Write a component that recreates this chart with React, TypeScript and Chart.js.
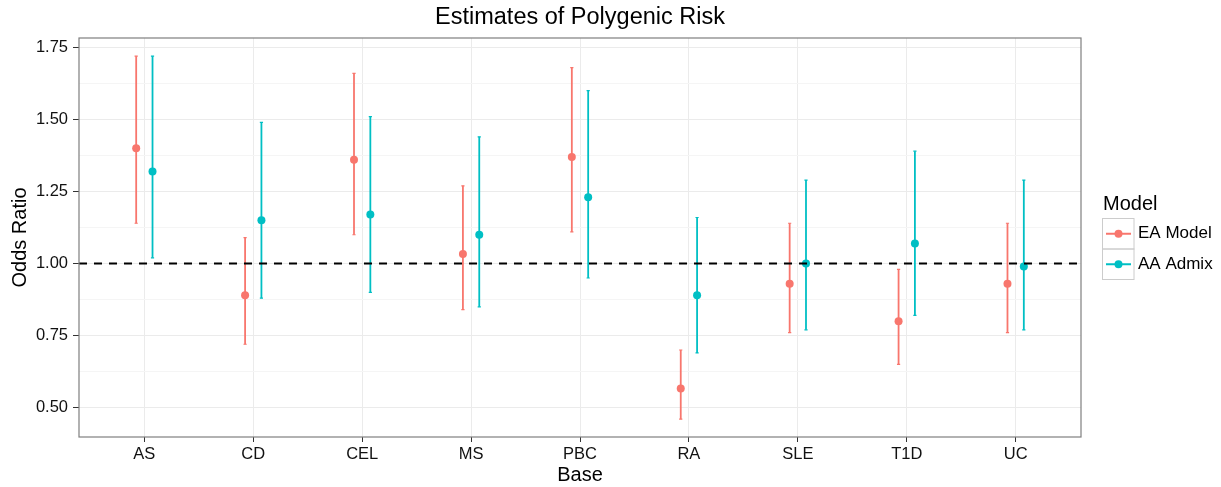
import { useEffect, useRef } from "react";
import { Chart, registerables } from "chart.js";

Chart.register(...registerables);

const categories = ["AS", "CD", "CEL", "MS", "PBC", "RA", "SLE", "T1D", "UC"];
const seriesNames = ["EA Model", "AA Admix"];
const seriesColors = ["#F8766D", "#00BFC4"];
const eaEstimate = [1.4, 0.89, 1.36, 1.033, 1.37, 0.566, 0.93, 0.8, 0.93];
const eaLower = [1.14, 0.72, 1.1, 0.84, 1.11, 0.46, 0.76, 0.65, 0.76];
const eaUpper = [1.72, 1.09, 1.66, 1.27, 1.68, 0.7, 1.14, 0.98, 1.14];
const aaEstimate = [1.32, 1.15, 1.17, 1.1, 1.23, 0.89, 1.0, 1.07, 0.99];
const aaLower = [1.02, 0.88, 0.9, 0.85, 0.95, 0.69, 0.77, 0.82, 0.77];
const aaUpper = [1.72, 1.49, 1.51, 1.44, 1.6, 1.16, 1.29, 1.39, 1.29];
const yMajorTicks = [0.5, 0.75, 1.0, 1.25, 1.5, 1.75];
const yMinorTicks = [0.625, 0.875, 1.125, 1.375, 1.625];
const referenceLine = 1.0;
const dodge = 0.075;

const chartTitle = "Estimates of Polygenic Risk";
const xTitle = "Base";
const yTitle = "Odds Ratio";
const legendTitle = "Model";

const FONT = "'Liberation Sans', Arial, sans-serif";

const overlayPlugin = {
  id: "overlay",
  beforeDatasetsDraw(chart: any) {
    const { ctx, scales } = chart;
    const xs = scales.x;
    const ys = scales.y;
    chart.data.datasets.forEach((ds: any) => {
      ctx.save();
      ctx.strokeStyle = ds.backgroundColor;
      ds.data.forEach((p: any, i: number) => {
        const px = xs.getPixelForValue(p.x);
        const yl = ys.getPixelForValue(ds.errLower[i]);
        const yh = ys.getPixelForValue(ds.errUpper[i]);
        ctx.lineWidth = 1.8;
        ctx.beginPath();
        ctx.moveTo(px, yl);
        ctx.lineTo(px, yh);
        ctx.stroke();
        ctx.lineWidth = 1.2;
        ctx.beginPath();
        ctx.moveTo(px - 1.6, yl);
        ctx.lineTo(px + 1.6, yl);
        ctx.moveTo(px - 1.6, yh);
        ctx.lineTo(px + 1.6, yh);
        ctx.stroke();
      });
      ctx.restore();
    });
  },
  afterDatasetsDraw(chart: any) {
    const { ctx, scales, chartArea } = chart;
    const y = scales.y.getPixelForValue(referenceLine);
    ctx.save();
    ctx.strokeStyle = "#000";
    ctx.lineWidth = 2;
    ctx.setLineDash([8, 7]);
    ctx.beginPath();
    ctx.moveTo(chartArea.left, y);
    ctx.lineTo(chartArea.right, y);
    ctx.stroke();
    ctx.setLineDash([]);
    ctx.strokeStyle = "#7F7F7F";
    ctx.lineWidth = 1.2;
    ctx.strokeRect(
      chartArea.left,
      chartArea.top,
      chartArea.right - chartArea.left,
      chartArea.bottom - chartArea.top
    );
    ctx.restore();
  },
  afterDraw(chart: any) {
    const { ctx, chartArea } = chart;
    const cx = (chartArea.left + chartArea.right) / 2;
    const cy = (chartArea.top + chartArea.bottom) / 2;
    ctx.save();
    ctx.fillStyle = "#000";
    ctx.textAlign = "center";
    ctx.textBaseline = "middle";
    ctx.font = `23.5px ${FONT}`;
    ctx.fillText(chartTitle, cx, 18);
    ctx.font = `20px ${FONT}`;
    ctx.fillText(xTitle, cx, 475);
    ctx.save();
    ctx.translate(20, cy);
    ctx.rotate(-Math.PI / 2);
    ctx.fillText(yTitle, 0, 0);
    ctx.restore();

    // legend
    ctx.textAlign = "left";
    ctx.font = `20px ${FONT}`;
    ctx.fillText(legendTitle, 1103, 204);
    ctx.font = `17px ${FONT}`;
    seriesNames.forEach((name, i) => {
      const top = 218.5 + i * 30.5;
      ctx.strokeStyle = "#CCCCCC";
      ctx.lineWidth = 1;
      ctx.strokeRect(1102.5, top, 31.5, 30.5);
      const my = top + 15.25;
      ctx.strokeStyle = seriesColors[i];
      ctx.lineWidth = 2;
      ctx.beginPath();
      ctx.moveTo(1106, my);
      ctx.lineTo(1131, my);
      ctx.stroke();
      ctx.fillStyle = seriesColors[i];
      ctx.beginPath();
      ctx.arc(1118.5, my, 4, 0, Math.PI * 2);
      ctx.fill();
      ctx.fillStyle = "#000";
      ctx.fillText(name, 1138, my);
    });
    ctx.restore();
  },
};

export default function App() {
  const canvasRef = useRef<HTMLCanvasElement | null>(null);

  useEffect(() => {
    document.body.style.margin = "0";
    const canvas = canvasRef.current;
    if (!canvas) return;

    const estimates = [eaEstimate, aaEstimate];
    const lowers = [eaLower, aaLower];
    const uppers = [eaUpper, aaUpper];

    const datasets = seriesNames.map((name, s) => ({
      label: name,
      data: categories.map((_, i) => ({
        x: i + 1 + (s === 0 ? -dodge : dodge),
        y: estimates[s][i],
      })),
      errLower: lowers[s],
      errUpper: uppers[s],
      backgroundColor: seriesColors[s],
      borderColor: seriesColors[s],
      borderWidth: 0,
      pointRadius: 4,
      pointHoverRadius: 4,
    }));

    const allY = [...yMajorTicks, ...yMinorTicks].sort((a, b) => a - b);

    const chart = new Chart(canvas, {
      type: "scatter",
      data: { datasets: datasets as any },
      plugins: [overlayPlugin],
      options: {
        animation: false,
        responsive: false,
        devicePixelRatio: 1,
        layout: { padding: { top: 38, right: 140, left: 0, bottom: 0 } },
        plugins: {
          legend: { display: false },
          title: { display: false },
          tooltip: { enabled: false },
        },
        scales: {
          x: {
            type: "linear",
            min: 0.4,
            max: 9.6,
            afterBuildTicks: (scale: any) => {
              scale.ticks = categories.map((_, i) => ({ value: i + 1 }));
            },
            afterFit: (scale: any) => {
              scale.height = 50;
            },
            ticks: {
              autoSkip: false,
              maxRotation: 0,
              padding: 3,
              color: "#111111",
              font: { family: FONT, size: 16.5 },
              callback: (_v: any, index: number) => categories[index],
            },
            grid: {
              color: "#EBEBEB",
              lineWidth: 1,
              tickLength: 5,
              tickColor: "#333333",
              drawTicks: true,
            },
            border: { display: false },
          },
          y: {
            type: "linear",
            min: 0.398,
            max: 1.783,
            afterBuildTicks: (scale: any) => {
              scale.ticks = allY.map((v) => ({ value: v }));
            },
            afterFit: (scale: any) => {
              scale.width = 79;
            },
            ticks: {
              autoSkip: false,
              padding: 5,
              color: "#111111",
              font: { family: FONT, size: 16.5 },
              callback: (v: any) =>
                yMajorTicks.includes(Number(v)) ? Number(v).toFixed(2) : "",
            },
            grid: {
              color: (c: any) =>
                yMajorTicks.includes(c.tick?.value) ? "#EBEBEB" : "#F5F5F5",
              lineWidth: 1,
              tickLength: 6,
              tickColor: (c: any) =>
                yMajorTicks.includes(c.tick?.value) ? "#333333" : "rgba(0,0,0,0)",
              drawTicks: true,
            },
            border: { display: false },
          },
        },
      } as any,
    });

    return () => {
      chart.destroy();
    };
  }, []);

  return (
    <div style={{ width: 1221, height: 487, background: "#fff" }}>
      <canvas ref={canvasRef} width={1221} height={487} style={{ display: "block" }} />
    </div>
  );
}
